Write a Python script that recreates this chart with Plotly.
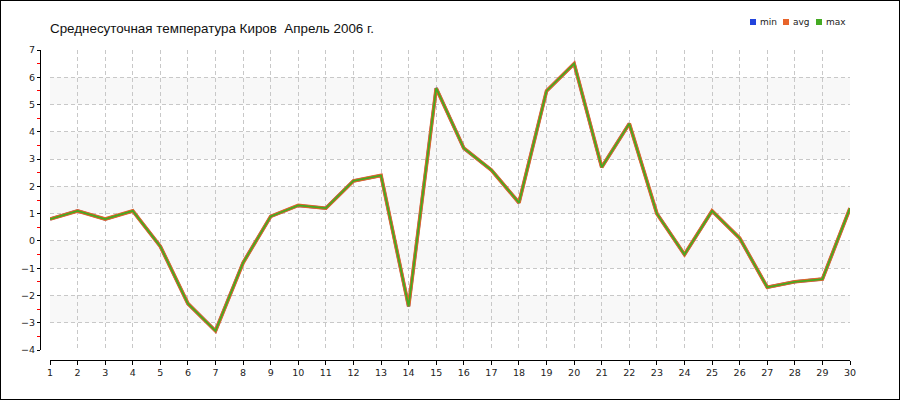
import plotly.graph_objects as go

days = list(range(1, 31))
t_min = [0.8, 1.1, 0.8, 1.1, -0.2, -2.3, -3.3, -0.8, 0.9, 1.3, 1.2, 2.2, 2.4, -2.4, 5.6,
         3.4, 2.6, 1.4, 5.5, 6.5, 2.7, 4.3, 1.0, -0.5, 1.1, 0.1, -1.7, -1.5, -1.4, 1.2]
t_avg = list(t_min)
t_max = list(t_min)
series_names = ["min", "avg", "max"]
colors = ["#2244dd", "#e8642a", "#44aa22"]
widths = [3, 3.6, 1.8]
title = "Среднесуточная температура Киров  Апрель 2006 г."

fig = go.Figure()
for name, vals, c, w in zip(series_names, [t_min, t_avg, t_max], colors, widths):
    fig.add_trace(go.Scatter(x=days, y=vals, mode="lines", line=dict(color=c, width=w),
                             showlegend=False, name=name))

W, H = 900, 400
L, R, T, B = 40, 50, 50, 40
pw, ph = W - L - R, H - T - B


def px_x(x):
    return (x - L) / pw


def px_y(y):
    return (H - B - y) / ph


shapes = []
for lo in range(-3, 7, 2):
    shapes.append(dict(type="rect", xref="paper", yref="y", x0=10 / pw, x1=1, y0=lo, y1=lo + 1,
                       fillcolor="#f8f8f8", line=dict(width=0), layer="below"))
shapes.append(dict(type="rect", xref="paper", yref="paper", x0=px_x(0), x1=px_x(W),
                   y0=px_y(H), y1=px_y(0), line=dict(color="black", width=2),
                   fillcolor="rgba(0,0,0,0)"))

# manual legend
annotations = []
leg_x = [750, 783, 816]
for name, c, lx in zip(series_names, colors, leg_x):
    shapes.append(dict(type="rect", xref="paper", yref="paper", x0=px_x(lx), x1=px_x(lx + 6),
                       y0=px_y(25), y1=px_y(19), fillcolor=c, line=dict(width=0)))
    annotations.append(dict(xref="paper", yref="paper", x=px_x(lx + 8), y=px_y(22), text=name,
                            showarrow=False, xanchor="left", yanchor="middle",
                            font=dict(family="DejaVu Sans", size=9, color="#222")))

fig.update_layout(
    width=W, height=H,
    margin=dict(l=L, r=R, t=T, b=B),
    paper_bgcolor="white", plot_bgcolor="white",
    title=dict(text=title, x=50 / W, xanchor="left", y=1 - 28 / H, yanchor="middle",
               font=dict(family="Liberation Sans, Arial", size=13.4, color="#111")),
    showlegend=False,
    shapes=shapes,
    annotations=annotations,
    xaxis=dict(domain=[10 / pw, 1], range=[1, 30], anchor="free", position=0,
               tickmode="array", tickvals=days, ticktext=[str(d) for d in days],
               showline=True, linecolor="black", linewidth=1,
               ticks="outside", ticklen=4, tickcolor="black",
               showgrid=True, gridcolor="#c8c8c8", griddash="4px,3px", gridwidth=1,
               zeroline=False, tickfont=dict(family="DejaVu Sans", size=9.5, color="#222")),
    yaxis=dict(domain=[10 / ph, 1], range=[-4, 7], anchor="free", position=0,
               dtick=1, tick0=0,
               showline=True, linecolor="black", linewidth=1,
               ticks="outside", ticklen=3, tickcolor="black",
               minor=dict(dtick=0.5, ticks="outside", ticklen=3, tickcolor="red", showgrid=False),
               showgrid=True, gridcolor="#c8c8c8", griddash="4px,3px", gridwidth=1,
               zeroline=False, tickfont=dict(family="DejaVu Sans", size=9.5, color="#222")),
)
fig.write_html("out.html", config={"displayModeBar": False},
               post_script="document.body.style.margin='0';")
